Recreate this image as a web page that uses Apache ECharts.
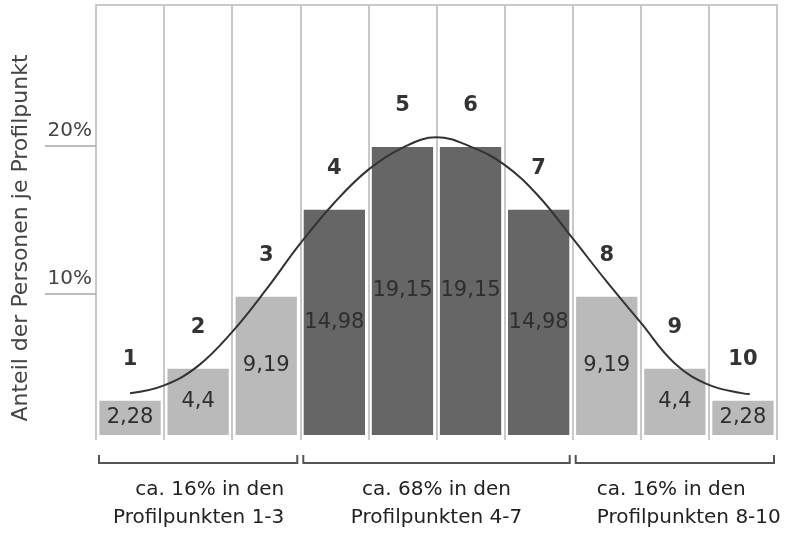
<!DOCTYPE html>
<html>
<head>
<meta charset="utf-8">
<script src="https://cdn.jsdelivr.net/npm/echarts@6/dist/echarts.min.js"></script>
<style>
  html, body { margin: 0; padding: 0; background: #fff; }
  #chart { width: 802px; height: 533px; }
</style>
</head>
<body>
<div id="chart"></div>
<script>
// Profile points and share of persons per point (percent)
const categories = ['1', '2', '3', '4', '5', '6', '7', '8', '9', '10'];
const shares = [2.28, 4.4, 9.19, 14.98, 19.15, 19.15, 14.98, 9.19, 4.4, 2.28];

// Normal-distribution curve, sampled every half profile point
const curveX = [1.0, 1.5, 2.0, 2.5, 3.0, 3.5, 4.0, 4.5, 5.0, 5.5,
                6.0, 6.5, 7.0, 7.5, 8.0, 8.5, 9.0, 9.5, 10.0, 10.1];
const curveY = [2.77, 3.3, 4.6, 6.86, 9.68, 12.74, 15.45, 17.65, 19.1, 19.8,
                19.18, 17.97, 15.88, 13.07, 10.2, 7.47, 4.76, 3.33, 2.77, 2.73];

// Percent ticks on the left
const tickValues = [10, 20];

// Groups of profile points with their captions
const groupFrom = [1, 4, 8];
const groupTo = [3, 7, 10];
const groupLine1 = ['ca. 16% in den', 'ca. 68% in den', 'ca. 16% in den'];
const groupLine2 = ['Profilpunkten 1-3', 'Profilpunkten 4-7', 'Profilpunkten 8-10'];

const axisTitle = 'Anteil der Personen je Profilpunkt';

const FONT = 'DejaVu Sans';
const LIGHT = '#bababa';
const DARK = '#666666';
const RULE = '#c9c9c9';

const chart = echarts.init(document.getElementById('chart'), null, { renderer: 'canvas' });

const fmt = v => String(v).replace('.', ',');
const inCenter = i => i + 1 >= groupFrom[1] && i + 1 <= groupTo[1];

const option = {
  animation: false,
  backgroundColor: '#fff',
  grid: [
    { left: 96, right: 25, top: 5, bottom: 98 },
    { left: 96, width: 10, top: 146, height: 148 }
  ],
  xAxis: [
    {
      type: 'category', gridIndex: 0, data: categories, boundaryGap: true,
      axisLine: { show: false },
      axisTick: { show: true, length: 5, lineStyle: { color: RULE, width: 2 } },
      axisLabel: { show: false },
      splitLine: { show: true, lineStyle: { color: RULE, width: 2 } }
    },
    {
      type: 'value', gridIndex: 0, min: 0.5, max: 10.5, show: false
    },
    {
      type: 'category', gridIndex: 0, data: categories, position: 'top',
      axisLine: { show: true, lineStyle: { color: RULE, width: 2 } },
      axisTick: { show: false }, axisLabel: { show: false }, splitLine: { show: false }
    },
    { type: 'value', gridIndex: 1, show: false, min: 0, max: 1 }
  ],
  yAxis: [
    {
      type: 'value', gridIndex: 0, min: 0, max: 28.6,
      axisLine: { show: false }, axisTick: { show: false },
      axisLabel: { show: false }, splitLine: { show: false }
    },
    {
      type: 'value', gridIndex: 1, min: tickValues[0], max: tickValues[1],
      interval: tickValues[1] - tickValues[0],
      axisLine: { show: false },
      axisTick: { show: true, length: 51, lineStyle: { color: '#a8a8a8', width: 1.5 } },
      axisLabel: {
        show: true, margin: 4, formatter: '{value}%',
        verticalAlign: 'bottom', padding: [0, 0, 5, 0],
        color: '#444', fontFamily: FONT, fontSize: 20
      },
      splitLine: { show: false }
    }
  ],
  series: [
    {
      type: 'bar', xAxisIndex: 0, yAxisIndex: 0,
      data: shares, barWidth: '90%', barGap: '-100%',
      itemStyle: { color: p => inCenter(p.dataIndex) ? DARK : LIGHT },
      label: {
        show: true, position: 'inside', formatter: p => fmt(p.value),
        color: '#2e2e2e', fontFamily: FONT, fontSize: 21
      },
      z: 2
    },
    {
      type: 'bar', xAxisIndex: 0, yAxisIndex: 0,
      data: shares, barWidth: '90%', barGap: '-100%',
      itemStyle: { color: 'rgba(0,0,0,0)' },
      label: {
        show: true, position: 'top', distance: 31, formatter: '{b}',
        color: '#333', fontFamily: FONT, fontSize: 21, fontWeight: 'bold'
      },
      silent: true, z: 1
    },
    {
      type: 'line', xAxisIndex: 1, yAxisIndex: 0,
      data: curveX.map((x, i) => [x, curveY[i]]),
      smooth: 0.4, showSymbol: false, symbol: 'none',
      lineStyle: { color: '#333', width: 2 },
      z: 5
    }
  ]
};

chart.setOption(option);

// Brackets and captions below the columns, placed from the category axis
const c1 = chart.convertToPixel({ xAxisIndex: 0 }, categories[0]);
const c2 = chart.convertToPixel({ xAxisIndex: 0 }, categories[1]);
const band = c2 - c1;
const zeroY = chart.convertToPixel({ yAxisIndex: 0 }, 0);
const baseY = zeroY + 28;
const capY = zeroY + 20;

const graphics = [];
groupFrom.forEach((from, g) => {
  const left = chart.convertToPixel({ xAxisIndex: 0 }, categories[from - 1]) - band / 2 + 3;
  const right = chart.convertToPixel({ xAxisIndex: 0 }, categories[groupTo[g] - 1]) + band / 2 - 3;
  graphics.push({
    type: 'polyline',
    shape: { points: [[left, capY], [left, baseY], [right, baseY], [right, capY]] },
    style: { stroke: '#555', lineWidth: 2, fill: null }
  });
  let tx, align;
  if (g === 0) { tx = right - 13; align = 'right'; }
  else if (g === 1) { tx = (left + right) / 2; align = 'center'; }
  else { tx = left + 21; align = 'left'; }
  [groupLine1[g], groupLine2[g]].forEach((t, k) => {
    graphics.push({
      type: 'text', x: tx, y: zeroY + 55 + k * 28,
      style: {
        text: t, align: align, verticalAlign: 'middle',
        fill: '#222', font: '20px "' + FONT + '"'
      }
    });
  });
});

graphics.push({
  type: 'text', x: 21, y: 238, rotation: Math.PI / 2,
  style: {
    text: axisTitle, align: 'center', verticalAlign: 'middle',
    fill: '#444', font: '22px "' + FONT + '"'
  }
});

chart.setOption({ graphic: graphics });
</script>
</body>
</html>
